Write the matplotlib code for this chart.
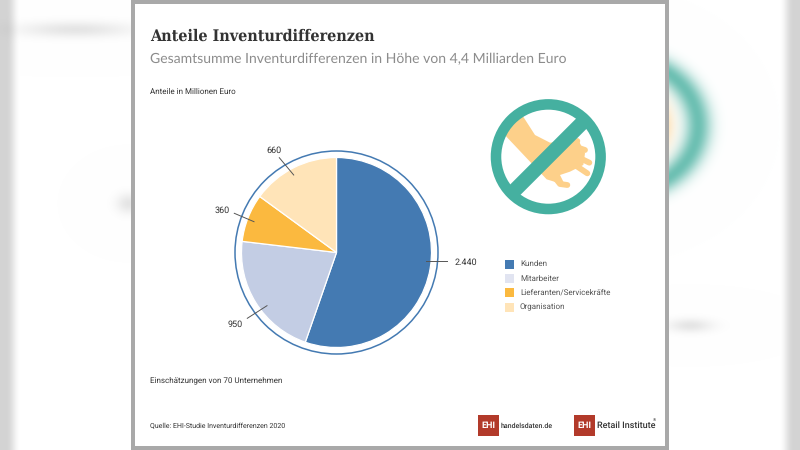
import numpy as np
import matplotlib
matplotlib.use("Agg")
import matplotlib.pyplot as plt
from matplotlib.patches import Circle, Rectangle, Polygon

plt.rcParams["text.hinting"] = "no_hinting"
plt.rcParams["text.hinting_factor"] = 1

categories = ["Kunden", "Mitarbeiter", "Lieferanten/Servicekräfte", "Organisation"]
values = [2440, 950, 360, 660]
value_labels = ["2.440", "950", "360", "660"]
colours = ["#447AB2", "#C3CDE4", "#FBB93F", "#FFE4B8"]
legend_colours = ["#447AB2", "#E1E4F1", "#FBB93F", "#FFE4B8"]

title = "Anteile Inventurdifferenzen"
subtitle = "Gesamtsumme Inventurdifferenzen in Höhe von 4,4 Milliarden Euro"
unit_note = "Anteile in Millionen Euro"
base_note = "Einschätzungen von 70 Unternehmen"
source = "Quelle: EHI-Studie Inventurdifferenzen 2020"

W, H = 800, 450
TEAL = "#45B0A0"
HAND = "#FDD08A"
RED = "#B23A2A"
DARK = "#333333"

fig = plt.figure(figsize=(8, 4.5), dpi=100)
bg = fig.add_axes([0, 0, 1, 1])
bg.set_xlim(0, W)
bg.set_ylim(H, 0)
bg.axis("off")

# blurred backdrop of the video frame
yy, xx = np.mgrid[0:H, 0:W]
edge = np.clip((20 - np.minimum(xx, W - 1 - xx)) / 14.0, 0, 1)
shade = 1 - 0.17 * edge * edge * (3 - 2 * edge)
img = np.dstack([shade, shade, shade])
dist = np.hypot((xx - 622) / 90.0, (yy - 125) / 78.0)
ring = np.exp(-((dist - 0.84) / 0.15) ** 2)
teal = np.array([0.33, 0.71, 0.65])
for c in range(3):
    img[:, :, c] = img[:, :, c] * (1 - ring * 0.85) + teal[c] * ring * 0.85
glow = np.exp(-((xx - 662) / 11.0) ** 2 - ((yy - 125) / 22.0) ** 2)
sand = np.array([0.99, 0.82, 0.55])
for c in range(3):
    img[:, :, c] = img[:, :, c] * (1 - glow * 0.7) + sand[c] * glow * 0.7
blobs = [(75, 29, 55, 8), (128, 203, 12, 10), (690, 325, 22, 7)]
for bx, by, sx, sy in blobs:
    blob = np.exp(-((xx - bx) / sx) ** 2 - ((yy - by) / sy) ** 2)
    img = img * (1 - 0.1 * blob[:, :, None])
bg.imshow(img, extent=(0, W, H, 0), aspect="auto", zorder=0)
bg.set_xlim(0, W)
bg.set_ylim(H, 0)

# card
bg.add_patch(Rectangle((131, 0), 538, 450, fc="#A9A9A9", ec="none", zorder=1))
bg.add_patch(Rectangle((135, 4), 530, 442, fc="white", ec="none", zorder=2))

# pie, in its own axes so the wedges come from the values
cx, cy, r = 336.5, 252.5, 95.0
span = 105.0
pie_ax = fig.add_axes([(cx - span) / W, 1 - (cy + span) / H, 2 * span / W, 2 * span / H], zorder=3)
pie_ax.pie(values, colors=colours, startangle=90, counterclock=False, radius=1,
           wedgeprops={"edgecolor": "white", "linewidth": 0.9})
pie_ax.set_xlim(-span / r, span / r)
pie_ax.set_ylim(-span / r, span / r)
pie_ax.add_patch(Circle((0, 0), 101.5 / r, fc="none", ec="#447AB2", lw=1.1))

# overlay in pixel coordinates
top = fig.add_axes([0, 0, 1, 1], zorder=4)
top.set_xlim(0, W)
top.set_ylim(H, 0)
top.axis("off")
top.patch.set_alpha(0)

sans = "Roboto"
narrow = ["Liberation Sans Narrow", "Roboto"]
top.text(150, 36.5, title, family="DejaVu Serif", stretch="condensed", weight="bold", fontsize=11.4,
         color=DARK, va="center")
top.text(150, 59.5, subtitle, family="Lato", fontsize=10.05, color="#8C8C8C", va="center")
top.text(150, 92, unit_note, family=sans, fontsize=5.6, color=DARK, va="center")
top.text(150, 380.5, base_note, family=sans, fontsize=5.5, color=DARK, va="center")
top.text(150, 426.5, source, family=sans, fontsize=4.8, color=DARK, va="center")

# value labels with leader lines
label_pos = [(466, 262), (235, 324.5), (222.5, 210.5), (274, 150)]
leaders = [((426, 260.5), (447, 260.5)), ((267, 305.7), (247.3, 318.3)),
           ((254, 221.7), (234.3, 213.3)), ((293.7, 175), (279.3, 157.7))]
for lab, pos, seg in zip(value_labels, label_pos, leaders):
    top.text(pos[0], pos[1], lab, family=sans, fontsize=6.6, color=DARK, ha="center", va="center")
    top.plot([seg[0][0], seg[1][0]], [seg[0][1], seg[1][1]], color="#555555", lw=0.7)

# legend
legend_y = [264, 278.5, 292.7, 307]
for name, col, ly in zip(categories, legend_colours, legend_y):
    top.add_patch(Rectangle((504.5, ly - 4.5), 9, 9, fc=col, ec="none"))
    top.text(520, ly, name, family=sans, fontsize=6.1, color="#555555", va="center")

# icon: coordinates
def ic(x, y):
    return 470 + x / 3.0, 90 + y / 3.0

arm = [(150, 65), (95, 125), (180, 215), (230, 268), (285, 285), (270, 255), (300, 245), (340, 225),
       (345, 190), (325, 150), (240, 158), (195, 135)]
top.add_patch(Polygon([ic(*p) for p in arm], fc=HAND, ec="none"))
fingers = [[(300, 165), (345, 180)], [(300, 190), (358, 218)], [(300, 215), (352, 250)],
           [(245, 250), (270, 282), (292, 285)], [(285, 155), (322, 153)]]
for f in fingers:
    pts = [ic(*p) for p in f]
    top.plot([p[0] for p in pts], [p[1] for p in pts], color=HAND, lw=4.2, solid_capstyle="round")
top.add_patch(Circle((548.3, 156.7), 52.3, fc="none", ec=TEAL, lw=7.6))
top.plot([514, 582], [191, 123], color=TEAL, lw=10.5, solid_capstyle="butt")

# logos
top.add_patch(Rectangle((478, 415), 20.5, 21, fc=RED, ec="none"))
top.text(488.2, 425.8, "EHI", family=sans, weight="bold", fontsize=6.8, color="white", ha="center", va="center")
top.text(501, 425.8, "handelsdaten.de", family=narrow, fontsize=5.2, weight="medium", color=DARK, va="center")
top.add_patch(Rectangle((574, 415), 20.5, 21, fc=RED, ec="none"))
top.text(584.2, 425.8, "EHI", family=sans, weight="bold", fontsize=6.8, color="white", ha="center", va="center")
top.text(597, 425.8, "Retail Institute", family=narrow, fontsize=6.2, weight="medium", color=DARK, va="center")
top.text(652.5, 420, "®", family=sans, fontsize=3.2, color=DARK, va="center")

fig.savefig("out.png", dpi=100)
